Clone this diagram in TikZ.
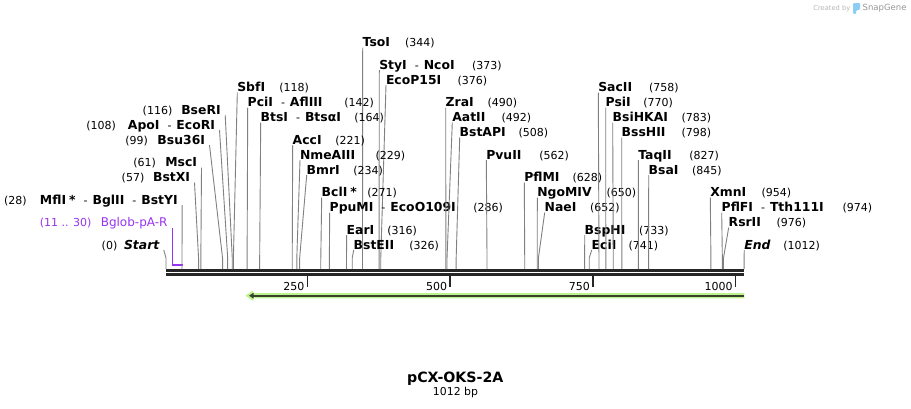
\documentclass[tikz,border=0pt]{standalone}
\usepackage{fontspec}
\setmainfont{DejaVu Sans}[BoldFont={DejaVu Sans Bold},ItalicFont={DejaVu Sans Oblique},BoldItalicFont={DejaVu Sans Bold Oblique}]
\usetikzlibrary{arrows.meta}
\definecolor{linegray}{RGB}{128,128,128}
\definecolor{bardark}{RGB}{38,38,38}
\definecolor{primpurple}{RGB}{150,50,240}
\definecolor{featgreen}{RGB}{190,242,140}
\definecolor{featdark}{RGB}{55,65,45}
\definecolor{sgblue}{RGB}{140,205,245}
\definecolor{sggray}{RGB}{150,150,150}
\newcommand{\sepd}{{\fontsize{11}{11}\selectfont\mdseries\hspace{8pt}-\hspace{5pt}}}
\tikzset{
  nm/.style={font=\fontsize{12.4}{14}\selectfont\bfseries, inner sep=0pt, outer sep=0pt},
  num/.style={font=\fontsize{11}{13}\selectfont, inner sep=0pt, outer sep=0pt},
  cutline/.style={draw=linegray, line width=0.9pt},
  barline/.style={draw=bardark, line width=2.7pt},
  tickline/.style={draw=bardark, line width=1.5pt},
}
\newcommand{\RLab}[7]{%
  \pgfmathsetmacro{\labY}{244.5-7.5*(#3)}%
  \pgfmathsetmacro{\labBX}{166+0.5712*(#7)}%
  \node[nm,anchor=base west] (#1) at (#2,\labY+4.5) {#4};
  \node[num,anchor=base west] (#1-n) at (#5,\labY+4.5) {#6};
  \coordinate (#1-a) at (#2,\labY+5.5);
  \coordinate (#1-b) at (\labBX,258);
  \coordinate (#1-c) at (\labBX,269);
  \draw[cutline] (#1-a) -- (#1-b) -- (#1-c);
}
\newcommand{\LLab}[7]{%
  \pgfmathsetmacro{\labY}{244.5-7.5*(#3)}%
  \pgfmathsetmacro{\labBX}{166+0.5712*(#7)}%
  \node[nm,anchor=base east] (#1) at (#2,\labY+4.5) {#4};
  \node[num,anchor=base east] (#1-n) at (#5,\labY+4.5) {#6};
  \coordinate (#1-a) at (#2+4.5,\labY+5.5);
  \coordinate (#1-b) at (\labBX,258);
  \coordinate (#1-c) at (\labBX,269);
  \draw[cutline] (#1-a) -- (#1-b) -- (#1-c);
}
\begin{document}
\begin{tikzpicture}[x=1pt,y=-1pt]
\useasboundingbox (0,0) rectangle (911,408);
% watermark
\node[font=\fontsize{6.7}{8}\selectfont, text=sggray!70, anchor=base east, inner sep=0pt] (created) at (850.5,10) {Created by};
\fill[sgblue, rounded corners=1pt] (853,3) -- (860,3) -- (860,9.5) -- (856,10.5) -- (856,14) -- (853,14) -- cycle;
\node[font=\fontsize{8.5}{10}\selectfont, text=sggray, anchor=base west, inner sep=0pt] (snapgene) at (862.5,10.5) {SnapGene};
% sequence bar
\coordinate (bar-s1) at (166,270.3);
\coordinate (bar-e1) at (744.3,270.3);
\coordinate (bar-s2) at (166,274.3);
\coordinate (bar-e2) at (744.3,274.3);
\draw[barline] (bar-s1) -- (bar-e1);
\draw[barline] (bar-s2) -- (bar-e2);
% ticks
\foreach \t/\tx in {250/307.3,500/450.1,750/592.9,1000/735.7}{
  \coordinate (tk\t-a) at (\tx,275.7);
  \coordinate (tk\t-b) at (\tx,287);
  \draw[tickline] (tk\t-a) -- (tk\t-b);
  \node[num,anchor=base east] (tk\t-l) at (\tx-3,290.8) {\t};
}
% feature arrow
\fill[featgreen] (245.5,295.7) -- (253,290.4) -- (253,293) -- (744.3,293) -- (744.3,298.4) -- (253,298.4) -- (253,301) -- cycle;
\coordinate (feat-e) at (744,295.7);
\coordinate (feat-s) at (249,295.7);
\draw[featdark, line width=1.8pt, -{Triangle[length=4.5pt,width=5.5pt]}] (feat-e) -- (feat-s);
% primer
\node[font=\fontsize{12}{14}\selectfont, text=primpurple, anchor=base east, inner sep=0pt] (bglob) at (167.7,226.5) {Bglob-pA-R};
\node[font=\fontsize{11}{13}\selectfont, text=primpurple, anchor=base east, inner sep=0pt] (bglob-n) at (91.7,226.5) {(11 .. 30)};
\coordinate (bglob-a) at (172.3,228.3);
\coordinate (bglob-b) at (172.3,265.2);
\coordinate (bglob-c) at (183.1,265.2);
\draw[primpurple, line width=1.4pt] (bglob-a) -- (bglob-b);
\draw[primpurple, line width=1.8pt] (bglob-b) -- (bglob-c);
% left labels
\LLab{bser}{220.7}{18}{BseRI}{172.3}{(116)}{116}
\LLab{apo}{215}{16}{ApoI\sepd EcoRI}{116}{(108)}{108}
\LLab{bsu}{205}{14}{Bsu36I}{148}{(99)}{99}
\LLab{msc}{197}{11}{MscI}{156}{(61)}{61}
\LLab{bstx}{190}{9}{BstXI}{144.3}{(57)}{57}
\LLab{mfl}{177.7}{6}{MflI\hspace{3pt}*\sepd BglII\sepd BstYI}{26.7}{(28)}{28}
\LLab{start}{159.3}{0}{\itshape Start}{117.3}{(0)}{0}
% right labels
\RLab{tso}{362.7}{27}{TsoI}{405}{(344)}{344}
\RLab{sty}{379.3}{24}{StyI\sepd NcoI}{472}{(373)}{373}
\RLab{ecop}{386}{22}{EcoP15I}{457.7}{(376)}{376}
\RLab{sbf}{237.3}{21}{SbfI}{279.3}{(118)}{118}
\RLab{pci}{247.7}{19}{PciI\sepd AflIII}{344.3}{(142)}{142}
\RLab{bts}{260.7}{17}{BtsI\sepd BtsαI}{354.3}{(164)}{164}
\RLab{acc}{292.7}{14}{AccI}{335.3}{(221)}{221}
\RLab{nme}{300}{12}{NmeAIII}{375.7}{(229)}{229}
\RLab{bmr}{306.7}{10}{BmrI}{353.3}{(234)}{234}
\RLab{bcl}{321.7}{7}{BclI\hspace{3pt}*}{367.3}{(271)}{271}
\RLab{ppu}{329.7}{5}{PpuMI\sepd EcoO109I}{473.3}{(286)}{286}
\RLab{ear}{346.7}{2}{EarI}{387.3}{(316)}{316}
\RLab{bste}{353.7}{0}{BstEII}{409.3}{(326)}{326}
\RLab{zra}{445.7}{19}{ZraI}{487.7}{(490)}{490}
\RLab{aat}{452.3}{17}{AatII}{501.7}{(492)}{492}
\RLab{bstap}{459.7}{15}{BstAPI}{518.7}{(508)}{508}
\RLab{pvu}{486.3}{12}{PvuII}{539.3}{(562)}{562}
\RLab{pflm}{524.3}{9}{PflMI}{572.7}{(628)}{628}
\RLab{ngo}{537.3}{7}{NgoMIV}{606.7}{(650)}{650}
\RLab{nae}{544.7}{5}{NaeI}{590}{(652)}{652}
\RLab{bsph}{584.7}{2}{BspHI}{639}{(733)}{733}
\RLab{eci}{591.7}{0}{EciI}{628.7}{(741)}{741}
\RLab{sac}{598.3}{21}{SacII}{649}{(758)}{758}
\RLab{psi}{605.7}{19}{PsiI}{643.3}{(770)}{770}
\RLab{bsihk}{612.7}{17}{BsiHKAI}{681.7}{(783)}{783}
\RLab{bssh}{621.7}{15}{BssHII}{681.7}{(798)}{798}
\RLab{taq}{638.3}{12}{TaqII}{689.3}{(827)}{827}
\RLab{bsa}{648.7}{10}{BsaI}{692}{(845)}{845}
\RLab{xmn}{710.3}{7}{XmnI}{761.7}{(954)}{954}
\RLab{pflf}{721.7}{5}{PflFI\sepd Tth111I}{842.7}{(974)}{974}
\RLab{rsr}{728.7}{3}{RsrII}{776.7}{(976)}{976}
\RLab{endl}{744.3}{0}{\itshape End}{783.3}{(1012)}{1012}
% title
\node[font=\fontsize{14.2}{17}\selectfont\bfseries, anchor=base, inner sep=0pt] (title) at (455.3,382.3) {pCX-OKS-2A};
\node[font=\fontsize{10.9}{13}\selectfont, anchor=base, inner sep=0pt] (size) at (455.5,395.3) {1012 bp};
\end{tikzpicture}
\end{document}
